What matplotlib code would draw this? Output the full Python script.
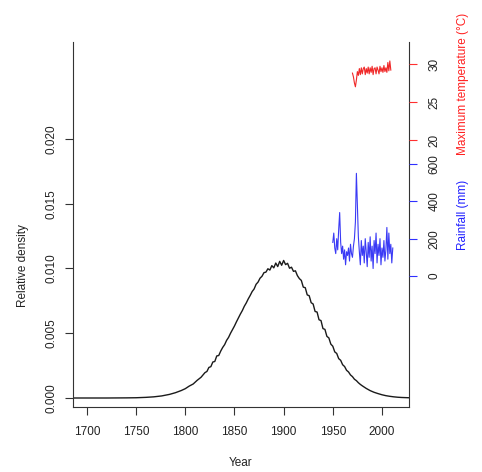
import matplotlib
matplotlib.use("Agg")
import matplotlib.pyplot as plt

plt.rcParams['font.family'] = ['Liberation Sans', 'DejaVu Sans']

# ---- data ----
density_years = [1686, 1700, 1720, 1740, 1750, 1760, 1768, 1776, 1784, 1790, 1796, 1800,
                 1804, 1808, 1812, 1816, 1820,
                 1822, 1824, 1826, 1828, 1830, 1832, 1834, 1836, 1838, 1840, 1842, 1844,
                 1846, 1848, 1850, 1852, 1854, 1856, 1858, 1860, 1862, 1864, 1866, 1868,
                 1870, 1872, 1874, 1876, 1878, 1880, 1882, 1884, 1886, 1888, 1890, 1892,
                 1894, 1896, 1898, 1900, 1902, 1904, 1906, 1908, 1910, 1912, 1914, 1916,
                 1918, 1920, 1922, 1924, 1926, 1928, 1930, 1932, 1934, 1936, 1938, 1940,
                 1942, 1944, 1946, 1948, 1950, 1952, 1954, 1956, 1958, 1960, 1962, 1964,
                 1966, 1968, 1970, 1972, 1974, 1976, 1978, 1980,
                 1984, 1988, 1992, 1996, 2000, 2004, 2008, 2012, 2016, 2020, 2027]
density_values = [0.0, 0.0, 0.0, 0.00001, 0.00002, 0.00005, 0.00009, 0.00016, 0.00028, 0.00041,
                  0.00058, 0.00072, 0.00092, 0.00108, 0.00136, 0.00160, 0.00196,
                  0.00205, 0.00236, 0.00242, 0.00278, 0.00282, 0.00325, 0.00328, 0.00362,
                  0.00390, 0.00412, 0.00445, 0.00468, 0.00500, 0.00528, 0.00556, 0.00588,
                  0.00618, 0.00648, 0.00675, 0.00708, 0.00734, 0.00765, 0.00792, 0.00822,
                  0.00842, 0.00878, 0.00895, 0.00925, 0.00940, 0.00968, 0.00972, 0.00998,
                  0.00988, 0.01022, 0.01005, 0.01042, 0.01015, 0.01055, 0.01025, 0.01062,
                  0.01030, 0.01040, 0.01002, 0.01010, 0.00978, 0.00982, 0.00945, 0.00922,
                  0.00908, 0.00856, 0.00852, 0.00796, 0.00790, 0.00736, 0.00726, 0.00668,
                  0.00664, 0.00604, 0.00598, 0.00536, 0.00530, 0.00476, 0.00464, 0.00416,
                  0.00400, 0.00356, 0.00344, 0.00304, 0.00291, 0.00257, 0.00243, 0.00214,
                  0.00201, 0.00178, 0.00165, 0.00145, 0.00134, 0.00118, 0.00105, 0.00094,
                  0.00074, 0.00057, 0.00044, 0.00034, 0.00025, 0.00018, 0.00013, 0.00009,
                  0.00006, 0.00004, 0.00002]

temp_years = list(range(1970, 2010))
temp_values = [28.8, 28.3, 27.5, 27.0, 27.9, 29.0, 28.5, 29.4, 28.6, 29.5,
               28.7, 29.4, 29.6, 28.6, 29.4, 28.8, 29.6, 28.7, 29.5, 28.9,
               29.7, 28.6, 29.4, 29.5, 28.7, 29.6, 29.2, 28.7, 29.7, 29.0,
               29.5, 28.9, 29.8, 29.0, 29.5, 28.9, 30.2, 29.1, 30.4, 29.2]

rain_years = list(range(1950, 2012))
rain_values = [180, 230, 150, 120, 200, 140, 250, 340, 180, 120,
               160, 90, 140, 60, 130, 110, 150, 80, 170, 120,
               100, 160, 200, 290, 550, 380, 210, 130, 60, 190,
               110, 160, 70, 200, 130, 50, 180, 100, 210, 80,
               160, 40, 190, 120, 230, 70, 170, 110, 200, 60,
               150, 100, 190, 80, 140, 260, 90, 230, 120, 170,
               70, 150]

x_ticks = [1700, 1750, 1800, 1850, 1900, 1950, 2000]
y_ticks = [0.000, 0.005, 0.010, 0.015, 0.020]
y_ticklabels = ["0.000", "0.005", "0.010", "0.015", "0.020"]
temp_ticks = [20, 25, 30]
rain_ticks = [0, 200, 400, 600]

W, H = 482, 472
fig = plt.figure(figsize=(W / 100, H / 100), dpi=100)
ax = fig.add_axes([73 / W, 65 / H, 336 / W, 365 / H])

txt = '#222222'
fs = 8.5

ax.plot(density_years, density_values, color='#1a1a1a', lw=1.0)
ax.set_xlim(1685.8, 2027.5)
ax.set_ylim(-0.000695, 0.02749)
ax.spines['top'].set_visible(False)
for s in ['left', 'bottom', 'right']:
    ax.spines[s].set_color('#333333')
    ax.spines[s].set_linewidth(0.8)
ax.set_xticks(x_ticks)
ax.set_xticklabels([str(t) for t in x_ticks])
ax.set_yticks(y_ticks)
ax.set_yticklabels(y_ticklabels, rotation=90, va='center')
ax.tick_params(axis='both', direction='out', length=6, width=0.8, colors='#333333',
               labelsize=fs, labelcolor=txt)
ax.tick_params(axis='x', pad=8)
ax.tick_params(axis='y', pad=5)
ax.tick_params(right=False)

# temperature axis
ax_t = ax.twinx()
ax_t.set_ylim(30 - (407 - 64) / 7.6, 30 + (64 - 42) / 7.6)
ax_t.plot(temp_years, temp_values, color='#f02828', lw=0.8)
for s in ax_t.spines.values():
    s.set_visible(False)
ax_t.set_yticks(temp_ticks)
ax_t.set_yticklabels([str(t) for t in temp_ticks], rotation=90, va='center')
ax_t.tick_params(axis='y', direction='out', length=6, width=0.8, colors='#ff3030',
                 labelsize=fs, labelcolor=txt, pad=8)

# rainfall axis
ax_r = ax.twinx()
ppm = (276 - 164) / 600.0
ax_r.set_ylim(-(407 - 276) / ppm, (276 - 42) / ppm)
ax_r.plot(rain_years, rain_values, color='#3a3af5', lw=0.8)
for s in ax_r.spines.values():
    s.set_visible(False)
ax_r.set_yticks(rain_ticks)
ax_r.set_yticklabels([str(t) for t in rain_ticks], rotation=90, va='center')
ax_r.tick_params(axis='y', direction='out', length=6, width=0.8, colors='#3030ff',
                 labelsize=fs, labelcolor=txt, pad=8)

# axis titles
fig.text(23 / W, 1 - 266 / H, "Relative density", rotation=90, ha='center', va='center',
         fontsize=fs, color=txt)
fig.text(241 / W, 1 - 463 / H, "Year", ha='center', va='center', fontsize=fs, color=txt)
fig.text(463 / W, 1 - 84 / H, "Maximum temperature (°C)", rotation=90, ha='center',
         va='center', fontsize=fs, color='#ff2020')
fig.text(463 / W, 1 - 215 / H, "Rainfall (mm)", rotation=90, ha='center', va='center',
         fontsize=fs, color='#2020ff')

fig.savefig("out.png", dpi=100)
